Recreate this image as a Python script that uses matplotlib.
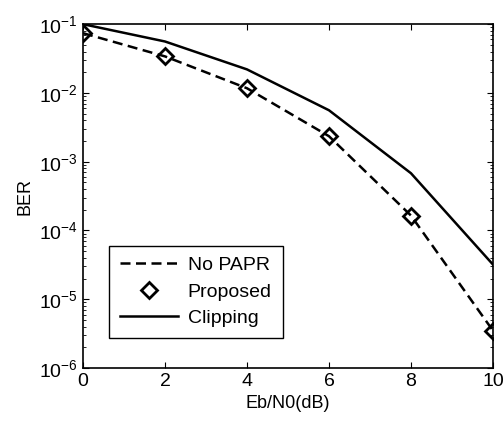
import numpy as np
import matplotlib
matplotlib.use("Agg")
import matplotlib.pyplot as plt

plt.rcParams['font.family'] = ['Liberation Sans', 'DejaVu Sans']
plt.rcParams['mathtext.fontset'] = 'custom'
plt.rcParams['mathtext.rm'] = 'Liberation Sans'
plt.rcParams['mathtext.it'] = 'Liberation Sans'
plt.rcParams['mathtext.bf'] = 'Liberation Sans'

ebn0 = [0, 2, 4, 6, 8, 10]
ber_no_papr = [7.4e-2, 3.4e-2, 1.17e-2, 2.35e-3, 1.65e-4, 3.5e-6]
ber_proposed = [7.4e-2, 3.4e-2, 1.17e-2, 2.35e-3, 1.65e-4, 3.5e-6]
ber_clipping = [1.0e-1, 5.6e-2, 2.2e-2, 5.6e-3, 6.8e-4, 3.2e-5]

fig = plt.figure(figsize=(5.03, 4.24), dpi=100)
ax = fig.add_axes([0.165, 0.132, 0.815, 0.811])

ax.semilogy(ebn0, ber_no_papr, 'k--', linewidth=1.8, dashes=(4, 2.2), label='No PAPR')
ax.semilogy(ebn0, ber_proposed, 'kD', markersize=8, markerfacecolor='none',
            markeredgewidth=2, label='Proposed')
ax.semilogy(ebn0, ber_clipping, 'k-', linewidth=1.8, label='Clipping')

ax.set_xlim(0, 10)
ax.set_ylim(1e-6, 1e-1)
ax.set_xticks([0, 2, 4, 6, 8, 10])
ax.set_xlabel('Eb/N0(dB)', fontsize=13)
ax.set_ylabel('BER', fontsize=13)
ax.tick_params(which='both', direction='in', top=True, right=True, labelsize=14)
ax.tick_params(which='major', length=4)
ax.tick_params(which='minor', length=2)
for s in ax.spines.values():
    s.set_linewidth(1.2)

leg = ax.legend(loc='lower left', bbox_to_anchor=(0.04, 0.06), fontsize=14,
                fancybox=False, edgecolor='black', framealpha=1,
                handlelength=3.0, borderpad=0.55, labelspacing=0.45,
                handletextpad=0.5)
leg.get_frame().set_linewidth(1.0)

fig.savefig('out.png', dpi=100)
